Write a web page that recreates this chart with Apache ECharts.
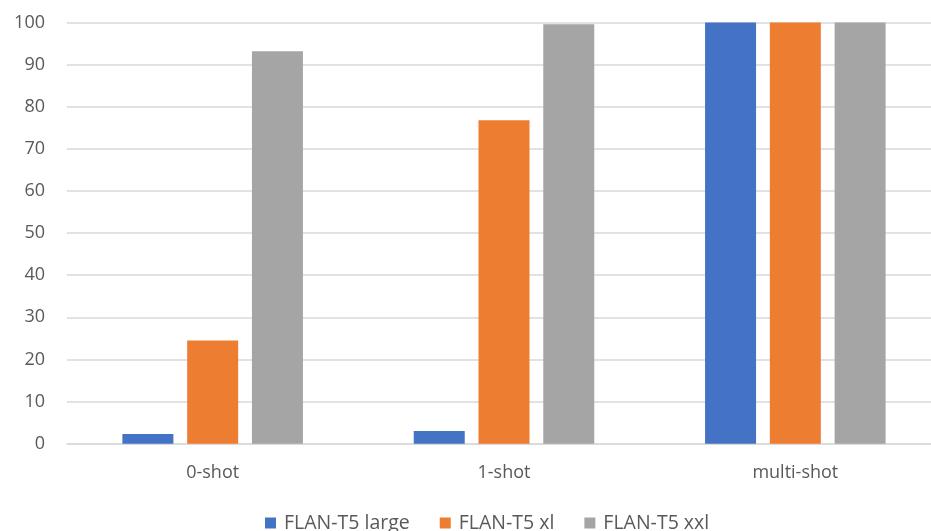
<!DOCTYPE html>
<html>
<head>
<meta charset="utf-8">
<script src="https://cdn.jsdelivr.net/npm/echarts@6/dist/echarts.min.js"></script>
<style>html,body{margin:0;padding:0;background:#fff;overflow:hidden;}#c{width:941px;height:531px;}</style>
</head>
<body>
<div id="c"></div>
<script>
const categories = ['0-shot', '1-shot', 'multi-shot'];
const seriesNames = ['FLAN-T5 large', 'FLAN-T5 xl', 'FLAN-T5 xxl'];
const flanLarge = [2.3, 3.0, 100];
const flanXl = [24.5, 76.8, 100];
const flanXxl = [93.2, 99.6, 100];
const yTicks = [0, 10, 20, 30, 40, 50, 60, 70, 80, 90, 100];

const colors = ['#4472C4', '#ED7D31', '#A5A5A5'];
const font = 'Open Sans, Noto Sans, sans-serif';
const chart = echarts.init(document.getElementById('c'), null, {renderer: 'canvas'});
const data = [flanLarge, flanXl, flanXxl];
chart.setOption({
  animation: false,
  color: colors,
  textStyle: {fontFamily: font, color: '#595959'},
  grid: {left: 67, top: 22.5, right: 0, bottom: 87.3, containLabel: false},
  legend: {
    data: seriesNames, left: 260, top: 508, itemWidth: 11, itemHeight: 11, itemGap: 30,
    icon: 'rect',
    textStyle: {fontSize: 19.5, color: '#595959', fontFamily: font, padding: [0, 0, 0, 3]}
  },
  xAxis: {
    type: 'category', data: categories,
    axisLine: {lineStyle: {color: '#D9D9D9', width: 1.5}},
    axisTick: {show: false},
    axisLabel: {fontSize: 18, color: '#595959', margin: 20, fontFamily: font}
  },
  yAxis: {
    type: 'value', min: yTicks[0], max: yTicks[yTicks.length - 1], interval: 10,
    axisLine: {show: false}, axisTick: {show: false},
    splitLine: {lineStyle: {color: '#D9D9D9', width: 1.5}},
    axisLabel: {fontSize: 18, color: '#595959', margin: 22, fontFamily: font}
  },
  series: seriesNames.map((n, i) => ({
    name: n, type: 'bar', data: data[i], barWidth: 51, barGap: '27%',
    itemStyle: {color: colors[i]}
  }))
});
</script>
</body>
</html>
